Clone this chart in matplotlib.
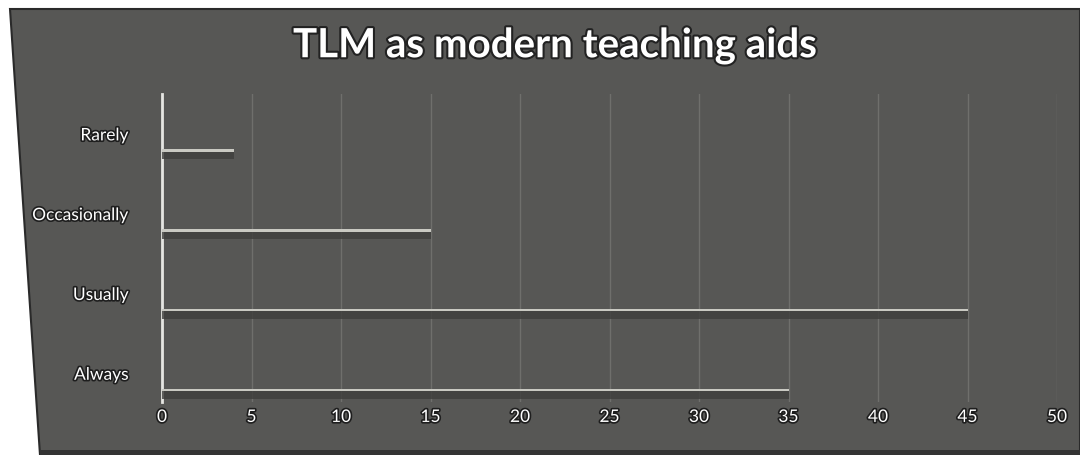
import matplotlib
matplotlib.use("Agg")
import matplotlib.pyplot as plt
import matplotlib.patheffects as pe
from matplotlib.patches import Polygon

categories = ["Always", "Usually", "Occasionally", "Rarely"]
values = [35, 45, 15, 4]
x_ticks = [0, 5, 10, 15, 20, 25, 30, 35, 40, 45, 50]
title = "TLM as modern teaching aids"

W, H = 1080, 456
fig = plt.figure(figsize=(W / 100, H / 100), dpi=100, facecolor="white")

# slide background panel with slightly slanted left edge
panel = Polygon([(10 / W, 1 - 10 / H), (1.0, 1 - 10 / H), (1.0, 0.0), (40 / W, 0.0)],
                closed=True, transform=fig.transFigure, facecolor="#575755",
                edgecolor="#2a2a2a", linewidth=1.5, zorder=0)
fig.patches.append(panel)
fig.patches.append(Polygon([(40 / W, 0), (1, 0), (1, 5 / H), (40 / W, 5 / H)], closed=True,
                           transform=fig.transFigure, facecolor="#333333",
                           edgecolor="none", zorder=0))

left, right = 162, 1057
top, bottom = 95, 403
ax = fig.add_axes([left / W, 1 - bottom / H, (right - left) / W, (bottom - top) / H])
ax.set_facecolor("none")
ax.set_zorder(2)

ypos = list(range(len(categories)))
offset = -0.21

# bar body (shadow) and its lit top edge
ax.barh([y + offset - 0.055 for y in ypos], values, height=0.11, left=0,
        color="#3e3e3c", alpha=0.8, zorder=3)
ax.barh([y + offset for y in ypos], values, height=0.03, left=0,
        color="#c9c9c2", zorder=4)

ax.set_xlim(0, 50)
ax.set_ylim(-0.36, 3.5)
ax.set_xticks(x_ticks)
ax.set_yticks(ypos)
ax.set_yticklabels(categories)

outline = [pe.withStroke(linewidth=2.4, foreground="#1e1e1e")]
for lab in ax.get_xticklabels() + ax.get_yticklabels():
    lab.set_color("white")
    lab.set_fontfamily("Lato")
    lab.set_fontsize(12.5)
    lab.set_path_effects(outline)

ax.tick_params(axis="both", length=0)
ax.tick_params(axis="x", pad=5)
ax.tick_params(axis="y", pad=24)

ax.grid(axis="x", color="#7a7a76", linewidth=1.0, alpha=0.7, zorder=1)
ax.set_axisbelow(True)
for side in ["top", "right", "bottom"]:
    ax.spines[side].set_visible(False)
ax.spines["left"].set_color("#e6e6e2")
ax.spines["left"].set_linewidth(2)
ax.spines["left"].set_bounds(-0.36, 3.5)

fig.text(555 / W, 1 - 47 / H, title, ha="center", va="center", color="white",
         fontsize=29, fontweight="bold", fontfamily="Lato",
         path_effects=[pe.withStroke(linewidth=3, foreground="#222222")])

fig.savefig("out.png", dpi=100, facecolor="white")
